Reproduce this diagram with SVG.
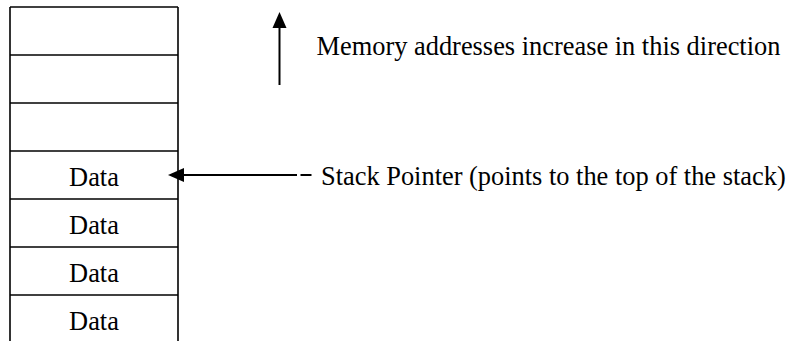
<svg xmlns="http://www.w3.org/2000/svg" width="792" height="341" viewBox="0 0 792 341">
  <style>
    .edge { stroke: #000; stroke-width: 1.6; fill: none; }
    .rule { stroke: #000; stroke-width: 1.4; fill: none; }
    .cell { font-family: "Liberation Serif", "Times New Roman", serif; font-size: 26.4px; fill: #000; text-anchor: middle; }
    .note { font-family: "Liberation Serif", "Times New Roman", serif; font-size: 26.4px; fill: #000; }
    .wire { stroke: #000; stroke-width: 2; fill: none; }
  </style>
  <defs>
    <marker id="head" markerWidth="8" markerHeight="8" refX="7.5" refY="4" orient="auto" markerUnits="userSpaceOnUse" viewBox="0 0 8 8">
      <path d="M0,0 L8,4 L0,8 Z" fill="#000"/>
    </marker>
  </defs>
  <rect width="792" height="341" fill="#fff"/>

  <!-- stack column -->
  <g id="stack">
    <line class="edge" x1="10" y1="7" x2="10" y2="341"/>
    <line class="edge" x1="178" y1="7" x2="178" y2="341"/>
    <line class="rule" x1="10" y1="7" x2="178" y2="7"/>
  </g>
  <g id="cell1"><line class="rule" x1="10" y1="55" x2="178" y2="55"/></g>
  <g id="cell2"><line class="rule" x1="10" y1="103" x2="178" y2="103"/></g>
  <g id="cell3"><line class="rule" x1="10" y1="151" x2="178" y2="151"/></g>
  <g id="cell4">
    <line class="rule" x1="10" y1="199" x2="178" y2="199"/>
    <text class="cell" x="94" y="186">Data</text>
  </g>
  <g id="cell5">
    <line class="rule" x1="10" y1="247" x2="178" y2="247"/>
    <text class="cell" x="94" y="234">Data</text>
  </g>
  <g id="cell6">
    <line class="rule" x1="10" y1="295" x2="178" y2="295"/>
    <text class="cell" x="94" y="282">Data</text>
  </g>
  <g id="cell7">
    <text class="cell" x="94" y="330">Data</text>
  </g>

  <!-- labels -->
  <g id="direction-label">
    <text class="note" x="316.5" y="55">Memory addresses increase in this direction</text>
  </g>
  <g id="pointer-label">
    <text class="note" x="321" y="185">Stack Pointer (points to the top of the stack)</text>
  </g>

  <!-- connectors -->
  <g id="connectors">
    <line class="wire" x1="279.5" y1="85" x2="279.5" y2="26"/>
    <path d="M279.5,12 L286.5,28 L272.5,28 Z" fill="#000"/>
    <line class="wire" x1="297" y1="175" x2="182" y2="175"/>
    <line class="wire" x1="300.5" y1="175" x2="311.5" y2="175"/>
    <path d="M168,175 L184,168 L184,182 Z" fill="#000"/>
  </g>
</svg>
